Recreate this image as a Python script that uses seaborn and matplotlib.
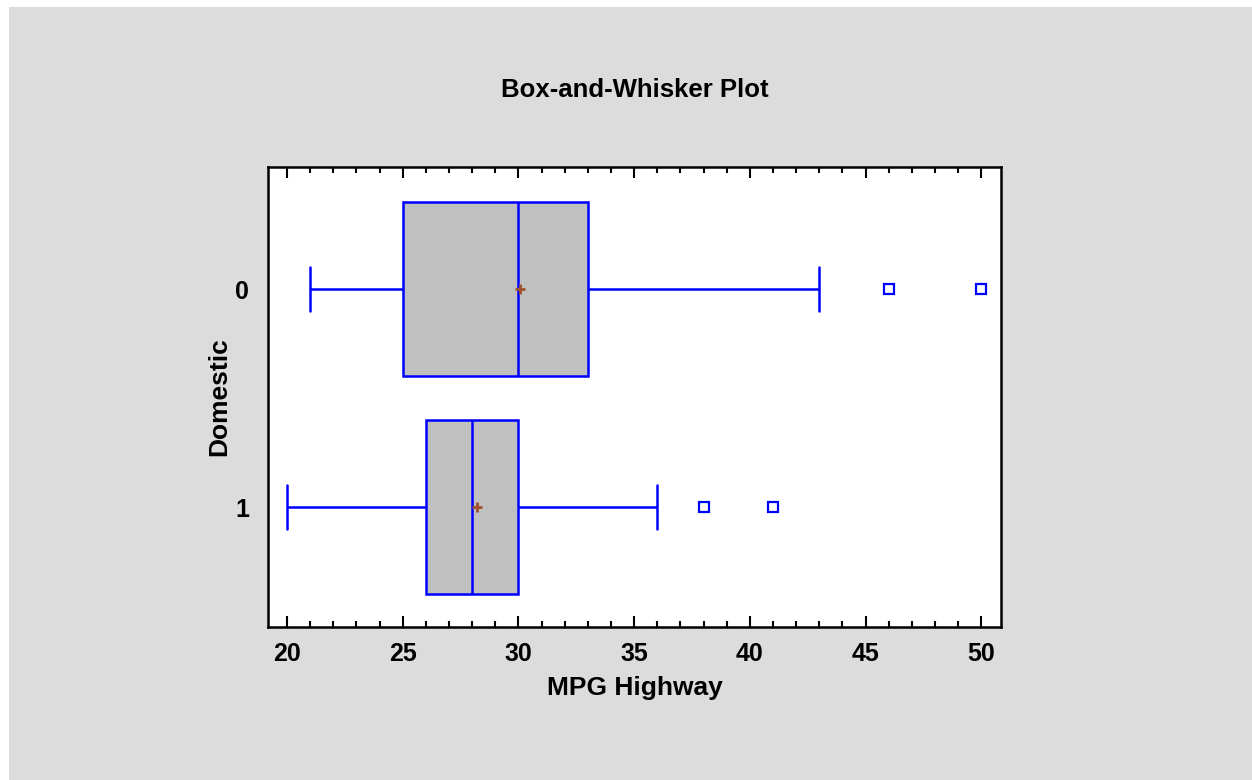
import numpy as np
import pandas as pd

import matplotlib
matplotlib.use("Agg")
import matplotlib.pyplot as plt
from matplotlib.patches import Rectangle
from matplotlib.ticker import MultipleLocator
import seaborn as sns


# ==========================================================
# DATA
# ==========================================================

domestic_levels = ["0", "1"]

mpg_domestic_0 = [
    21, 22, 22, 23, 24, 25, 25, 26, 26, 28, 30,
    30, 30, 30, 31, 33, 33, 33, 43, 46, 50
]

mpg_domestic_1 = [
    20, 22, 23, 25, 25, 26, 26, 26, 27, 27, 28,
    28, 28, 28, 28, 30, 30, 30, 36, 38, 41
]

x_ticks = [20, 25, 30, 35, 40, 45, 50]

title_text = "Box-and-Whisker Plot"
x_label = "MPG Highway"
y_label = "Domestic"


# ==========================================================
# TABLE
# ==========================================================

df = pd.DataFrame({
    "MPG Highway": mpg_domestic_0 + mpg_domestic_1,
    "Domestic": (
        [domestic_levels[0]] * len(mpg_domestic_0)
        + [domestic_levels[1]] * len(mpg_domestic_1)
    ),
})


# ==========================================================
# STYLE
# ==========================================================

sns.set_style("white")

plt.rcParams["font.family"] = ["Liberation Sans", "DejaVu Sans"]
plt.rcParams["font.weight"] = "bold"
plt.rcParams["text.color"] = "black"
plt.rcParams["axes.labelcolor"] = "black"
plt.rcParams["xtick.color"] = "black"
plt.rcParams["ytick.color"] = "black"

panel_gray = "#DCDCDC"
box_gray = "#C0C0C0"
line_blue = "#0000FF"
mean_brown = "#A0522D"


# ==========================================================
# FIGURE
# ==========================================================

fig = plt.figure(
    figsize=(12.52, 7.80),
    dpi=100,
    facecolor=panel_gray
)

# thin white strips along the top and left edges
fig.patches.append(
    Rectangle(
        (0, 0), 9 / 1252, 1,
        transform=fig.transFigure,
        facecolor="white",
        edgecolor="none"
    )
)
fig.patches.append(
    Rectangle(
        (0, 1 - 7 / 780), 1, 7 / 780,
        transform=fig.transFigure,
        facecolor="white",
        edgecolor="none"
    )
)

ax = fig.add_axes([0.2141, 0.1962, 0.5855, 0.5897])
ax.set_facecolor("white")

sns.boxplot(
    data=df,
    x="MPG Highway",
    y="Domestic",
    order=domestic_levels,
    orient="y",
    width=0.8,
    color=box_gray,
    saturation=1,
    linecolor=line_blue,
    linewidth=1.8,
    whis=1.5,
    capwidths=0.2,
    showmeans=True,
    meanprops=dict(
        marker="+",
        markeredgecolor=mean_brown,
        markerfacecolor=mean_brown,
        markersize=7,
        markeredgewidth=2
    ),
    flierprops=dict(
        marker="s",
        markersize=6.5,
        markerfacecolor="white",
        markeredgecolor=line_blue,
        markeredgewidth=1.6
    ),
    ax=ax
)


# ==========================================================
# AXES
# ==========================================================

ax.set_xlim(19.18, 50.86)
ax.set_ylim(1.55, -0.56)

ax.set_xticks(x_ticks)
ax.xaxis.set_minor_locator(MultipleLocator(1))

ax.tick_params(
    axis="x",
    which="both",
    direction="in",
    top=True,
    bottom=True,
    colors="black",
    labelsize=18,
    width=1.5
)
ax.tick_params(axis="x", which="major", length=8, pad=11)
ax.tick_params(axis="x", which="minor", length=4)

ax.tick_params(
    axis="y",
    which="both",
    left=False,
    right=False,
    labelsize=18,
    pad=10
)

for label in ax.get_xticklabels() + ax.get_yticklabels():
    label.set_fontweight("bold")

for spine in ax.spines.values():
    spine.set_visible(True)
    spine.set_color("black")
    spine.set_linewidth(1.8)

ax.set_xlabel(
    x_label,
    fontsize=19,
    fontweight="bold",
    labelpad=7
)

ax.set_ylabel(
    y_label,
    fontsize=19,
    fontweight="bold",
    labelpad=3
)

fig.text(
    0.5068,
    0.884,
    title_text,
    ha="center",
    va="center",
    fontsize=18.5,
    fontweight="bold",
    color="black"
)

fig.savefig("out.png", dpi=100, facecolor=fig.get_facecolor())
plt.close(fig)
